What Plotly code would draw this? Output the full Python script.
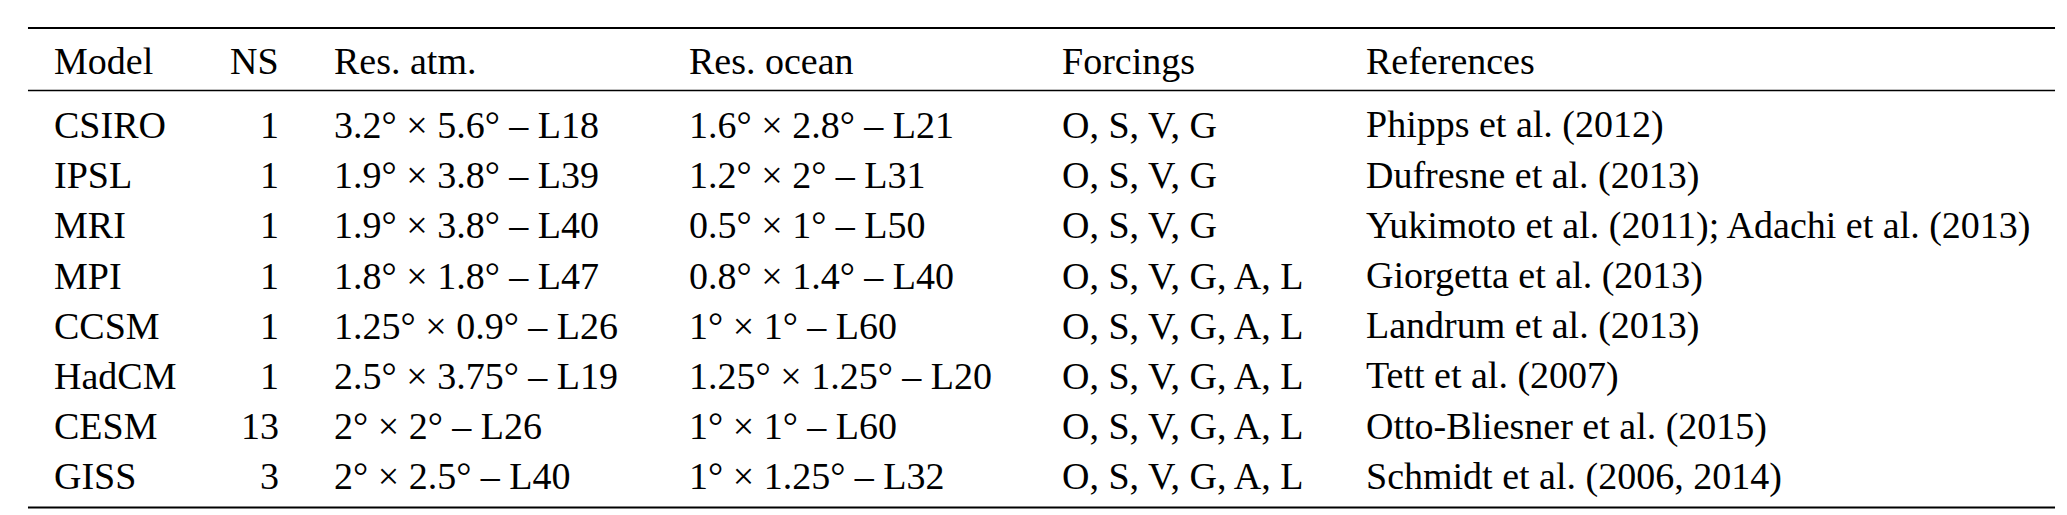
import plotly.graph_objects as go

headers = ["Model", "NS", "Res. atm.", "Res. ocean", "Forcings", "References"]
models = ["CSIRO", "IPSL", "MRI", "MPI", "CCSM", "HadCM", "CESM", "GISS"]
ns = ["1", "1", "1", "1", "1", "1", "13", "3"]
res_atm = ["3.2° × 5.6° – L18", "1.9° × 3.8° – L39", "1.9° × 3.8° – L40", "1.8° × 1.8° – L47",
           "1.25° × 0.9° – L26", "2.5° × 3.75° – L19", "2° × 2° – L26", "2° × 2.5° – L40"]
res_ocean = ["1.6° × 2.8° – L21", "1.2° × 2° – L31", "0.5° × 1° – L50", "0.8° × 1.4° – L40",
             "1° × 1° – L60", "1.25° × 1.25° – L20", "1° × 1° – L60", "1° × 1.25° – L32"]
forcings = ["O, S, V, G", "O, S, V, G", "O, S, V, G", "O, S, V, G, A, L",
            "O, S, V, G, A, L", "O, S, V, G, A, L", "O, S, V, G, A, L", "O, S, V, G, A, L"]
refs = ["Phipps et al. (2012)", "Dufresne et al. (2013)",
        "Yukimoto et al. (2011); Adachi et al. (2013)", "Giorgetta et al. (2013)",
        "Landrum et al. (2013)", "Tett et al. (2007)", "Otto-Bliesner et al. (2015)",
        "Schmidt et al. (2006, 2014)"]

W = 1552.0
col_x = [33, 205, 243, 510, 790, 1018]
anchors = ["left", "right", "left", "left", "left", "left"]
font = dict(family="Liberation Serif, Times New Roman, serif", size=38, color="black")

fig = go.Figure()
ann = []
y_head = 1 - 0.103
for i, h in enumerate(headers):
    ann.append(dict(x=col_x[i] / W, y=y_head, text=h, xanchor=anchors[i]))
columns = [models, ns, res_atm, res_ocean, forcings, refs]
for r in range(len(models)):
    y = 1 - (0.227 + r * 0.0975)
    for c, col in enumerate(columns):
        ann.append(dict(x=col_x[c] / W, y=y, text=col[r], xanchor=anchors[c]))
for a in ann:
    a.update(xref="paper", yref="paper", yanchor="middle", showarrow=False, font=font)

shapes = []
for yy, w in [(1 - 0.039, 2), (1 - 0.16, 1.5), (1 - 0.97, 2)]:
    shapes.append(dict(type="line", xref="paper", yref="paper", x0=15 / W, x1=1537 / W,
                       y0=yy, y1=yy, line=dict(color="black", width=w)))

fig.update_layout(annotations=ann, shapes=shapes, width=2067, height=515,
                  margin=dict(l=0, r=0, t=0, b=0), plot_bgcolor="white", paper_bgcolor="white",
                  xaxis=dict(visible=False), yaxis=dict(visible=False))
fig.write_html("out.html")
